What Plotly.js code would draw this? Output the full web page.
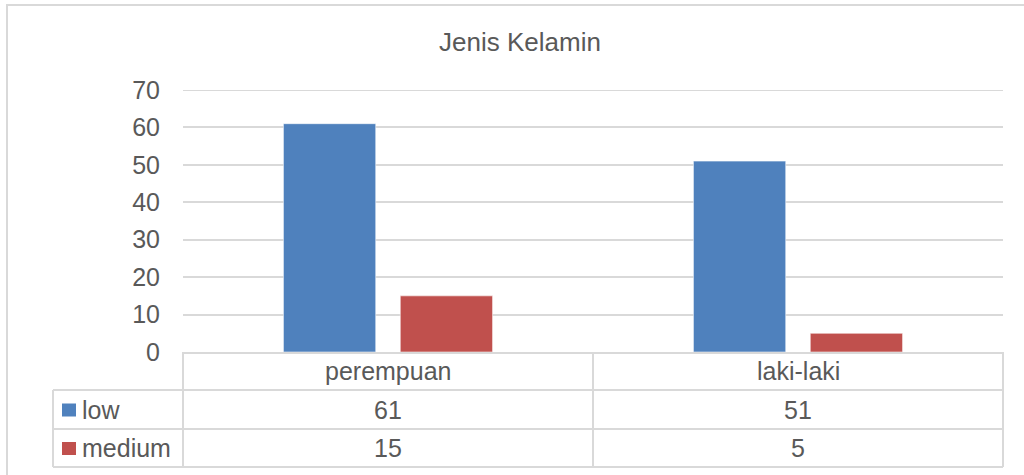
<!DOCTYPE html>
<html>
<head>
<meta charset="utf-8">
<script src="https://cdn.plot.ly/plotly-3.0.1.min.js"></script>
<style>
  html, body { margin: 0; padding: 0; background: #ffffff; }
  #chart { width: 1024px; height: 475px; }
</style>
</head>
<body>
<div id="chart"></div>
<script>
const chartTitle = "Jenis Kelamin";
const categories = ["perempuan", "laki-laki"];
const seriesNames = ["low", "medium"];
const lowValues = [61, 51];
const mediumValues = [15, 5];
const yTicks = [0, 10, 20, 30, 40, 50, 60, 70];

const colors = ["#4F81BD", "#C0504D"];
const textColor = "#595959";
const lineColor = "#d9d9d9";
const fontFamily = "Liberation Sans, Arial, sans-serif";
const fs = 25;

// plot-area pixel geometry
const L = 183, R = 1003, T = 90, B = 352, W = 1024, H = 475;
const px = x => (x - L) / (R - L);
const py = y => (B - y) / (B - T);

const rowLines = [390, 429, 467];
const tableLeft = 53;

const traces = [
  { type: "bar", name: seriesNames[0], x: categories, y: lowValues,
    marker: { color: colors[0], line: { color: "rgba(255,255,255,0.55)", width: 1 } }, hoverinfo: "none" },
  { type: "bar", name: seriesNames[1], x: categories, y: mediumValues,
    marker: { color: colors[1], line: { color: "rgba(255,255,255,0.55)", width: 1 } }, hoverinfo: "none" }
];

const shapes = [];
function hline(y, x0, x1) {
  shapes.push({ type: "line", xref: "paper", yref: "paper", x0: px(x0), x1: px(x1), y0: py(y), y1: py(y),
    line: { color: lineColor, width: 2 } });
}
function vline(x, y0, y1) {
  shapes.push({ type: "line", xref: "paper", yref: "paper", x0: px(x), x1: px(x), y0: py(y0), y1: py(y1),
    line: { color: lineColor, width: 2 } });
}
// top gridline at the axis maximum (Plotly omits grid at range edge)
shapes.push({ type: "line", xref: "paper", yref: "y", x0: 0, x1: 1,
  y0: yTicks[yTicks.length - 1], y1: yTicks[yTicks.length - 1], line: { color: lineColor, width: 2 }, layer: "below" });
// outer chart border
shapes.push({ type: "rect", xref: "paper", yref: "paper", x0: px(7), x1: px(1030), y0: py(5), y1: py(480),
  line: { color: lineColor, width: 2 }, fillcolor: "rgba(0,0,0,0)", layer: "below" });
// data table grid
rowLines.forEach(y => hline(y, tableLeft, R));
vline(L, B, rowLines[2]);
vline((L + R) / 2, B, rowLines[2]);
vline(R, B, rowLines[2]);
vline(tableLeft, rowLines[0], rowLines[2]);

const annotations = [];
const rowCenters = [(B + rowLines[0]) / 2, (rowLines[0] + rowLines[1]) / 2, (rowLines[1] + rowLines[2]) / 2];
const baseFont = { family: fontFamily, size: fs, color: textColor };
categories.forEach((c, i) => {
  annotations.push({ xref: "x", yref: "paper", x: c, y: py(rowCenters[0]), text: c, showarrow: false,
    xanchor: "center", yanchor: "middle", font: baseFont });
  annotations.push({ xref: "x", yref: "paper", x: c, y: py(rowCenters[1]), text: String(lowValues[i]), showarrow: false,
    xanchor: "center", yanchor: "middle", font: baseFont });
  annotations.push({ xref: "x", yref: "paper", x: c, y: py(rowCenters[2]), text: String(mediumValues[i]), showarrow: false,
    xanchor: "center", yanchor: "middle", font: baseFont });
});
// row headers with legend keys
seriesNames.forEach((s, i) => {
  const yc = rowCenters[i + 1];
  shapes.push({ type: "rect", xref: "paper", yref: "paper", x0: px(62), x1: px(76), y0: py(yc - 6), y1: py(yc + 7),
    line: { width: 0 }, fillcolor: colors[i] });
  annotations.push({ xref: "paper", yref: "paper", x: px(80), y: py(yc), text: s, showarrow: false,
    xanchor: "left", yanchor: "middle", font: baseFont });
});

const layout = {
  width: W, height: H,
  margin: { l: L, r: W - R, t: T, b: H - B, pad: 0 },
  paper_bgcolor: "#ffffff", plot_bgcolor: "#ffffff",
  title: { text: chartTitle, xref: "container", yref: "container", x: 520 / W, y: 1 - 42 / H,
    xanchor: "center", yanchor: "middle", font: { family: fontFamily, size: 26, color: textColor } },
  showlegend: false,
  barmode: "group", bargap: 0.43, bargroupgap: 0.21,
  xaxis: { type: "category", showticklabels: false, showgrid: false, zeroline: false,
    showline: true, linecolor: lineColor, linewidth: 2, ticks: "", fixedrange: true },
  yaxis: { range: [0, 70], tickvals: yTicks, ticktext: yTicks.map(String), showgrid: true,
    gridcolor: lineColor, gridwidth: 2, zeroline: false, showline: false, ticks: "",
    ticklabelstandoff: 22, tickfont: { family: fontFamily, size: fs, color: textColor }, fixedrange: true },
  shapes: shapes,
  annotations: annotations
};

Plotly.newPlot("chart", traces, layout, { displayModeBar: false, staticPlot: true });
</script>
</body>
</html>
